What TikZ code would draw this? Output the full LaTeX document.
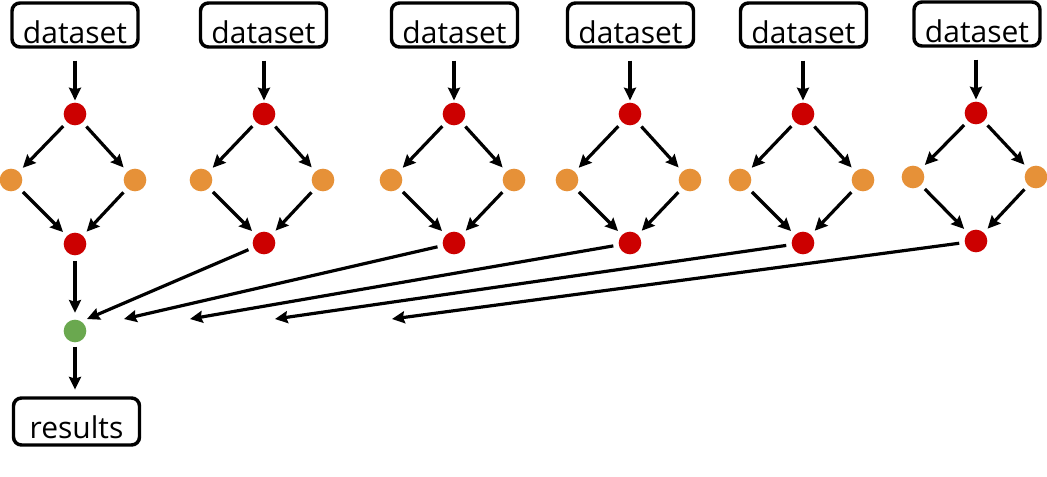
\documentclass[tikz,border=0pt]{standalone}
\usepackage{fontspec}
\setmainfont{Open Sans}
\usetikzlibrary{arrows.meta}
\definecolor{cred}{HTML}{CC0000}
\definecolor{corange}{HTML}{E69138}
\definecolor{cgreen}{HTML}{6AA84F}
\tikzset{
  lbl/.style={draw=black, line width=2.6pt, rounded corners=6pt, minimum width=94.5pt,
    inner xsep=0pt, inner ysep=0pt, text height=30pt, text depth=3pt, font=\fontsize{22.5pt}{26pt}\selectfont},
  dotr/.style={circle, fill=cred, minimum size=17pt, inner sep=0pt},
  doto/.style={circle, fill=corange, minimum size=17pt, inner sep=0pt},
  dotg/.style={circle, fill=cgreen, minimum size=17pt, inner sep=0pt},
  arr/.style={draw=black, line width=2.4pt, -{Stealth[length=9.5pt,width=9pt,inset=1.2pt]}},
}
\begin{document}
\begin{tikzpicture}[x=0.75pt,y=-0.75pt]
\useasboundingbox (0,0) rectangle (1047,476);
\foreach \i/\bx/\bly/\rx/\ty/\oy/\bry/\lx/\ox in {
  1/75/25/75/114/180/244/11/135,
  2/263.5/25/264/114/180/243/201/323,
  3/454.5/25/454/114/180/243/391/514,
  4/630.5/25/630/114/180/243/567/690,
  5/803.5/25/803/114/180/243/740/863,
  6/977/24/976/113/177/241/913/1036}{
  \node[lbl] (d\i) at (\bx,\bly) {dataset};
  \node[dotr] (t\i) at (\rx,\ty) {};
  \node[doto] (l\i) at (\lx,\oy) {};
  \node[doto] (r\i) at (\ox,\oy) {};
  \node[dotr] (b\i) at (\rx,\bry) {};
  \draw[arr, shorten <=9pt, shorten >=1.5pt] (d\i.south -| t\i) -- (t\i);
  \draw[arr, shorten <=4pt, shorten >=4pt] (t\i) -- (l\i);
  \draw[arr, shorten <=4pt, shorten >=4pt] (t\i) -- (r\i);
  \draw[arr, shorten <=4pt, shorten >=4pt] (l\i) -- (b\i);
  \draw[arr, shorten <=4pt, shorten >=4pt] (r\i) -- (b\i);
}
\node[dotg] (g) at (75,331) {};
\node[lbl, text depth=5.25pt] (res) at (76.5,421.5) {results};
\coordinate (e2) at (87,319);
\coordinate (e3) at (124,319);
\coordinate (e4) at (190,319);
\coordinate (e5) at (275,319);
\coordinate (e6) at (392,319);
\draw[arr, shorten <=4pt, shorten >=5pt] (b1) -- (g);
\draw[arr, shorten <=3pt, shorten >=5pt] (g) -- (g |- res.north);
\foreach \i in {2,...,6}{
  \draw[arr, shorten <=4pt] (b\i) -- (e\i);
}
\end{tikzpicture}
\end{document}
